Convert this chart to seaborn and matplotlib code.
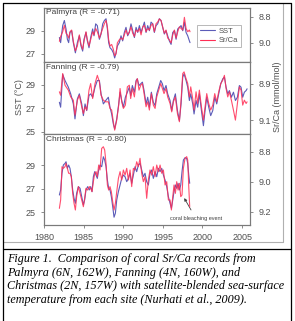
import numpy as np
import pandas as pd
import matplotlib
matplotlib.use("Agg")
import matplotlib.pyplot as plt
from matplotlib.lines import Line2D
import seaborn as sns

# Palmyra
pal_year = [1981.94, 1982.10, 1982.36, 1982.57, 1982.78, 1982.95, 1983.11, 1983.28, 1983.49, 1983.70,
            1983.96, 1984.21, 1984.46, 1984.67, 1984.88, 1985.05, 1985.30, 1985.47, 1985.68, 1985.89,
            1986.14, 1986.31, 1986.52, 1986.73, 1986.99, 1987.20, 1987.41, 1987.62, 1987.83, 1988.00,
            1988.16, 1988.33, 1988.54, 1988.75, 1988.92, 1989.09, 1989.26, 1989.51, 1989.72, 1989.93,
            1990.14, 1990.35, 1990.56, 1990.77, 1990.98, 1991.20, 1991.41, 1991.62, 1991.83, 1992.04,
            1992.25, 1992.46, 1992.67, 1992.88, 1993.09, 1993.30, 1993.51, 1993.72, 1993.93, 1994.14,
            1994.35, 1994.56, 1994.77, 1994.98, 1995.19, 1995.40, 1995.61, 1995.82, 1996.04, 1996.25,
            1996.46, 1996.67, 1996.88, 1997.09, 1997.30, 1997.51, 1997.72, 1997.93, 1998.14, 1998.35,
            1998.43]
pal_sst = [28.41, 27.97, 29.44, 29.88, 29.15, 28.26, 27.97, 28.85, 29.00, 27.97,
           27.09, 27.97, 28.56, 27.68, 27.24, 28.26, 28.85, 28.12, 27.53, 28.41,
           29.15, 28.56, 29.59, 29.44, 28.26, 28.71, 29.59, 29.88, 30.03, 29.15,
           27.97, 27.53, 27.38, 27.09, 26.65, 27.09, 27.68, 27.97, 28.56, 28.12,
           28.85, 29.29, 28.56, 28.85, 29.59, 29.00, 28.41, 29.29, 28.85, 29.44,
           28.85, 29.29, 29.74, 28.85, 29.44, 29.00, 29.74, 29.59, 28.85, 29.44,
           29.59, 30.03, 29.88, 29.29, 28.71, 29.00, 28.56, 28.12, 27.82, 28.85,
           29.00, 28.26, 29.15, 29.29, 29.44, 29.00, 29.74, 28.85, 28.56, 28.12,
           27.97]
pal_srca = [8.988, 8.951, 8.915, 8.866, 8.927, 8.939, 8.963, 8.915, 8.902, 8.988,
            9.061, 9.024, 8.939, 9.012, 9.049, 8.988, 8.915, 8.976, 9.024, 8.976,
            8.915, 8.939, 8.890, 8.915, 8.963, 8.927, 8.890, 8.854, 8.829, 8.878,
            8.976, 9.024, 9.012, 9.049, 9.098, 9.085, 9.000, 8.976, 8.963, 8.976,
            8.939, 8.902, 8.939, 8.915, 8.878, 8.927, 8.951, 8.902, 8.915, 8.890,
            8.939, 8.878, 8.866, 8.915, 8.890, 8.902, 8.866, 8.854, 8.915, 8.854,
            8.841, 8.817, 8.829, 8.878, 8.927, 8.902, 8.963, 8.976, 9.000, 8.939,
            8.902, 8.963, 8.915, 8.878, 8.890, 8.902, 8.805, 8.890, 8.915, 8.902,
            8.915]

# Fanning
fan_year = [1981.94, 1982.10, 1982.36, 1982.65, 1983.07, 1983.37, 1983.70, 1983.91, 1984.21, 1984.46,
            1984.76, 1984.97, 1985.18, 1985.39, 1985.68, 1985.89, 1986.14, 1986.44, 1986.73, 1986.99,
            1987.20, 1987.49, 1987.79, 1988.12, 1988.33, 1988.54, 1988.75, 1988.92, 1989.18, 1989.43,
            1989.60, 1989.81, 1990.02, 1990.27, 1990.52, 1990.77, 1990.94, 1991.15, 1991.41, 1991.62,
            1991.78, 1991.99, 1992.21, 1992.42, 1992.63, 1992.88, 1993.09, 1993.30, 1993.55, 1993.80,
            1994.02, 1994.23, 1994.48, 1994.73, 1994.94, 1995.15, 1995.40, 1995.61, 1995.91, 1996.12,
            1996.33, 1996.58, 1996.84, 1997.09, 1997.30, 1997.51, 1997.68, 1997.93, 1998.14, 1998.35,
            1998.52, 1998.77, 1998.94, 1999.19, 1999.40, 1999.61, 1999.87, 2000.12, 2000.33, 2000.54,
            2000.79, 2001.04, 2001.30, 2001.55, 2001.80, 2002.05, 2002.31, 2002.56, 2002.77, 2002.98,
            2003.19, 2003.40, 2003.65, 2003.91, 2004.16, 2004.41, 2004.66, 2004.87, 2005.08, 2005.29,
            2005.51, 2005.63]
fan_sst = [27.51, 27.09, 29.89, 29.37, 28.80, 28.23, 27.37, 26.09, 27.80, 28.23,
           27.37, 26.37, 27.37, 26.80, 28.09, 28.23, 27.94, 28.80, 29.37, 29.37,
           28.23, 27.37, 27.66, 27.94, 27.09, 26.51, 25.66, 25.23, 26.09, 27.37,
           28.37, 27.66, 27.09, 27.94, 28.37, 28.80, 28.09, 28.94, 28.37, 29.37,
           29.51, 28.94, 29.09, 29.23, 28.51, 27.37, 27.94, 27.09, 28.37, 27.51,
           27.23, 28.23, 28.80, 29.37, 29.09, 28.51, 28.94, 28.23, 27.66, 26.80,
           27.66, 28.23, 26.80, 25.94, 27.37, 29.66, 29.94, 29.37, 28.80, 27.66,
           28.23, 27.37, 26.51, 27.66, 27.09, 28.23, 26.80, 25.51, 26.80, 27.94,
           27.09, 26.37, 26.80, 27.94, 27.37, 28.23, 29.09, 29.51, 29.66, 28.80,
           28.23, 28.51, 27.94, 28.37, 27.66, 27.94, 28.94, 28.80, 27.94, 28.37,
           28.51, 28.66]
fan_srca = [8.945, 8.964, 8.845, 8.909, 8.936, 8.973, 8.991, 9.073, 8.991, 8.964,
            9.027, 9.064, 9.027, 9.045, 8.936, 8.900, 8.982, 8.900, 8.855, 8.891,
            8.964, 8.991, 9.000, 9.000, 9.036, 9.045, 9.109, 9.155, 9.100, 9.018,
            8.927, 9.000, 9.036, 9.018, 8.918, 8.909, 8.982, 8.927, 8.973, 8.891,
            8.873, 8.936, 8.909, 8.900, 8.955, 9.027, 9.000, 9.045, 8.955, 9.018,
            9.036, 8.973, 8.936, 8.900, 8.927, 8.955, 8.927, 8.973, 9.009, 9.055,
            9.000, 8.973, 9.064, 9.109, 8.991, 8.845, 8.836, 8.873, 8.900, 8.973,
            8.918, 8.982, 9.045, 8.945, 9.009, 8.936, 9.027, 9.100, 9.027, 8.955,
            9.009, 9.045, 9.018, 8.955, 9.000, 8.945, 8.900, 8.882, 8.855, 8.927,
            8.973, 8.945, 8.991, 9.045, 9.100, 9.009, 8.918, 8.936, 9.018, 8.991,
            9.009, 9.000]

# Christmas
chr_year = [1981.94, 1982.10, 1982.27, 1982.44, 1982.65, 1982.78, 1982.95, 1983.11, 1983.28, 1983.45,
            1983.62, 1983.79, 1983.96, 1984.12, 1984.34, 1984.55, 1984.76, 1984.97, 1985.13, 1985.30,
            1985.51, 1985.72, 1985.89, 1986.06, 1986.23, 1986.40, 1986.57, 1986.73, 1986.90, 1987.07,
            1987.28, 1987.49, 1987.66, 1987.83, 1988.00, 1988.16, 1988.33, 1988.50, 1988.67, 1988.84,
            1989.01, 1989.18, 1989.39, 1989.60, 1989.81, 1990.02, 1990.23, 1990.44, 1990.65, 1990.86,
            1991.07, 1991.28, 1991.49, 1991.70, 1991.91, 1992.12, 1992.33, 1992.54, 1992.75, 1992.96,
            1993.17, 1993.38, 1993.59, 1993.80, 1994.02, 1994.23, 1994.44, 1994.65, 1994.86, 1995.07,
            1995.28, 1995.49, 1995.70, 1995.91, 1996.08, 1996.25, 1996.41, 1996.58, 1996.75, 1996.92,
            1997.09, 1997.26, 1997.42, 1997.59, 1997.80, 1998.01, 1998.14, 1998.27, 1998.39]
chr_sst = [26.46, 26.89, 28.30, 29.00, 29.14, 29.28, 28.72, 29.00, 28.72, 28.01,
           26.89, 26.18, 25.76, 26.61, 27.17, 27.03, 26.32, 25.62, 26.04, 26.89,
           27.17, 26.89, 27.17, 26.75, 28.01, 28.44, 28.15, 27.87, 28.58, 29.00,
           28.86, 29.70, 29.42, 28.86, 27.73, 27.03, 26.89, 26.32, 25.48, 24.58,
           24.92, 26.04, 26.75, 27.31, 27.87, 28.15, 28.01, 27.59, 27.87, 28.30,
           27.45, 28.15, 28.86, 28.44, 29.00, 29.14, 28.58, 28.01, 28.30, 27.59,
           27.31, 28.30, 28.58, 27.87, 28.44, 28.01, 28.72, 28.44, 28.72, 28.15,
           27.73, 27.17, 26.32, 25.76, 25.34, 26.04, 26.75, 27.31, 27.03, 27.45,
           26.89, 27.31, 28.44, 29.42, 29.62, 29.56, 29.14, 28.15, 27.45]
chr_srca = [9.178, 9.122, 8.900, 8.911, 8.900, 8.878, 8.911, 8.944, 8.944, 8.967,
            9.078, 9.144, 9.189, 9.100, 9.033, 9.078, 9.122, 9.167, 9.111, 9.044,
            9.056, 9.033, 9.044, 9.067, 9.000, 8.944, 8.933, 8.967, 8.889, 8.922,
            8.778, 8.767, 8.789, 8.878, 9.022, 9.056, 9.033, 9.067, 9.133, 9.189,
            9.144, 9.067, 8.978, 8.933, 8.989, 8.922, 8.956, 8.911, 8.989, 8.922,
            9.033, 8.911, 8.922, 8.867, 8.900, 8.844, 8.944, 9.000, 8.967, 9.111,
            8.989, 8.922, 8.956, 8.900, 8.967, 8.889, 8.933, 8.889, 8.944, 8.922,
            9.022, 9.000, 9.122, 9.122, 9.189, 9.100, 9.022, 9.078, 9.000, 9.056,
            9.011, 9.100, 9.089, 8.911, 8.844, 8.833, 8.856, 9.033, 9.167]

titles = ["Palmyra (R = -0.71)", "Fanning (R = -0.79)", "Christmas (R = -0.80)"]
sst_lims = [(26.3, 31.0), (24.8, 30.95), (23.92, 31.63)]
sst_ticks = [[27, 29], [25, 27, 29], [25, 27, 29]]
srca_lims = [(9.146, 8.73), (9.176, 8.782), (9.289, 8.682)]
srca_ticks = [[8.8, 9.0], [8.9, 9.1], [8.8, 9.0, 9.2]]
srca_labels = [["8.8", "9.0"], ["8.9", "9.1"], ["8.8", "9.0", "9.2"]]
year_ticks = [1980, 1985, 1990, 1995, 2000, 2005]

caption = ["Figure 1.  Comparison of coral Sr/Ca records from",
           "Palmyra (6N, 162W), Fanning (4N, 160W), and",
           "Christmas (2N, 157W) with satellite-blended sea-surface",
           "temperature from each site (Nurhati et al., 2009)."]

sns.set_style("white")
plt.rcParams['font.family'] = ['Liberation Sans', 'DejaVu Sans']

blue = "#5c5cb8"
red = "#ff2e55"
grey = "#7a7a7a"
txt = "#505050"

fig = plt.figure(figsize=(2.95, 3.21), dpi=100)
W, H = 295.0, 321.0
# panels: (top, bottom) in pixels
boxes = [(7.5, 62), (62, 134), (134, 225)]
series = [(pal_year, pal_sst, pal_srca), (fan_year, fan_sst, fan_srca), (chr_year, chr_sst, chr_srca)]

for i, (top, bot) in enumerate(boxes):
    ax = fig.add_axes([44 / W, 1 - bot / H, 206 / W, (bot - top) / H])
    yr, sst, srca = series[i]
    df = pd.DataFrame({"year": yr, "sst": sst, "srca": srca})
    sns.lineplot(data=df, x="year", y="sst", ax=ax, color=blue, linewidth=0.8)
    axr = ax.twinx()
    sns.lineplot(data=df, x="year", y="srca", ax=axr, color=red, linewidth=0.8, alpha=0.85)

    ax.set_xlim(1980, 2006)
    ax.set_ylim(*sst_lims[i])
    ax.set_yticks(sst_ticks[i])
    axr.set_ylim(*srca_lims[i])
    axr.set_yticks(srca_ticks[i])
    axr.set_yticklabels(srca_labels[i])
    for a in (ax, axr):
        a.set_xlabel("")
        a.set_ylabel("")
        for s in a.spines.values():
            s.set_color(grey)
            s.set_linewidth(0.8)
        a.tick_params(length=2.5, width=0.6, color=grey, labelsize=6.5,
                      labelcolor=txt, pad=3.5)
    ax.tick_params(axis="y", left=True, direction="out")
    axr.tick_params(axis="y", right=True, direction="out")
    if i < 2:
        ax.tick_params(axis="x", bottom=False, labelbottom=False)
    else:
        ax.set_xticks(year_ticks)
        ax.tick_params(axis="x", bottom=True, direction="out")
    axr.tick_params(axis="x", bottom=False, labelbottom=False)

    ax.text(0.01, 0.975, titles[i], transform=ax.transAxes, ha="left", va="top",
            fontsize=6, color="#404040")

    if i == 0:
        handles = [Line2D([], [], color=blue, linewidth=0.8),
                   Line2D([], [], color=red, linewidth=0.8)]
        leg = axr.legend(handles, ["SST", "Sr/Ca"], loc="upper left",
                         bbox_to_anchor=(0.745, 0.68), frameon=True, fancybox=False,
                         edgecolor="#999999", fontsize=5.5, handlelength=1.9,
                         borderpad=0.35, labelspacing=0.25, handletextpad=0.5,
                         borderaxespad=0)
        leg.get_frame().set_linewidth(0.6)
        for t in leg.get_texts():
            t.set_color(txt)
    if i == 2:
        ax.annotate("coral bleaching event", xy=(1997.7, 26.2), xytext=(1999.15, 24.5),
                    ha="center", va="center", fontsize=4, color="#404040",
                    arrowprops=dict(arrowstyle="-|>", color="#404040", lw=0.6,
                                    mutation_scale=4, shrinkA=2, shrinkB=0,
                                    connectionstyle="arc3"))

fig.text(20 / W, 1 - 97 / H, "SST (°C)", rotation=90, ha="center", va="center",
         fontsize=6.5, color=txt)
fig.text(278 / W, 1 - 97 / H, "Sr/Ca (mmol/mol)", rotation=90, ha="center", va="center",
         fontsize=6.5, color=txt)

# chart area (grey) and page box (black)
fig.add_artist(Line2D([283 / W, 283 / W], [1 - 3 / H, 1 - 242 / H], color="#b0b0b0", lw=0.8))
fig.add_artist(Line2D([3 / W, 283 / W], [1 - 242 / H, 1 - 242 / H], color="#b0b0b0", lw=0.8))
fig.add_artist(Line2D([3 / W, 3 / W], [0, 1 - 3 / H], color="black", lw=0.9))
fig.add_artist(Line2D([291 / W, 291 / W], [0, 1 - 3 / H], color="black", lw=0.9))
fig.add_artist(Line2D([3 / W, 291 / W], [1 - 3 / H, 1 - 3 / H], color="black", lw=0.9))
fig.add_artist(Line2D([3 / W, 291 / W], [1 - 249 / H, 1 - 249 / H], color="black", lw=0.9))

for k, line in enumerate(caption):
    fig.text(7 / W, 1 - (259 + 13.6 * k) / H, line, ha="left", va="center",
             fontsize=8.7, style="italic", family=["Liberation Serif", "DejaVu Serif"],
             color="black")

fig.savefig("out.png", dpi=100)
